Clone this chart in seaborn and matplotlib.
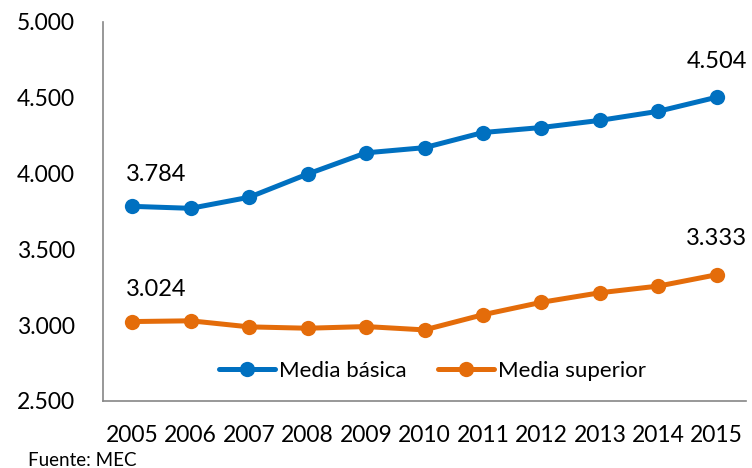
import matplotlib
matplotlib.use("Agg")
import matplotlib.pyplot as plt
from matplotlib.lines import Line2D
import seaborn as sns
import pandas as pd

years = [2005, 2006, 2007, 2008, 2009, 2010, 2011, 2012, 2013, 2014, 2015]
media_basica = [3784, 3771, 3844, 3997, 4137, 4171, 4271, 4304, 4351, 4411, 4504]
media_superior = [3024, 3029, 2989, 2980, 2991, 2969, 3069, 3151, 3214, 3258, 3333]
series_names = ["Media básica", "Media superior"]
colors = ["#0070C0", "#E46C0A"]
y_ticks = [2500, 3000, 3500, 4000, 4500, 5000]
source_text = "Fuente: MEC"

df = pd.DataFrame({
    "Año": years * 2,
    "Valor": media_basica + media_superior,
    "Serie": [series_names[0]] * len(years) + [series_names[1]] * len(years),
})

sns.set_style("white")
plt.rcParams["font.family"] = ["Lato", "DejaVu Sans"]
plt.rcParams["text.color"] = "black"
plt.rcParams["xtick.color"] = "black"
plt.rcParams["ytick.color"] = "black"

def fmt(v):
    return f"{v:,.0f}".replace(",", ".")

fig = plt.figure(figsize=(7.52, 4.68), dpi=100)
ax = fig.add_axes([103 / 752, (468 - 401) / 468, (746 - 103) / 752, (401 - 22) / 468])

sns.lineplot(data=df, x="Año", y="Valor", hue="Serie", palette=colors,
             marker="o", markersize=11, markeredgewidth=0, linewidth=3.6,
             ax=ax, legend=False)

ax.set_xlim(2004.5, 2015.5)
ax.set_ylim(2500, 5000)
ax.set_xticks(years)
ax.set_xticklabels([str(y) for y in years], fontsize=16.5)
ax.set_yticks(y_ticks)
ax.set_yticklabels([fmt(v) for v in y_ticks], fontsize=16.5)
ax.tick_params(axis="x", length=0, pad=17, colors="black")
ax.tick_params(axis="y", length=0, pad=20, colors="black")
ax.set_xlabel("")
ax.set_ylabel("")
for s in ["top", "right"]:
    ax.spines[s].set_visible(False)
for s in ["left", "bottom"]:
    ax.spines[s].set_color("#868686")
    ax.spines[s].set_linewidth(1.2)

for vals in [media_basica, media_superior]:
    ax.annotate(fmt(vals[0]), (years[0], vals[0]), xytext=(17, 23),
                textcoords="offset points", ha="center", va="center", fontsize=17,
                color="black")
    ax.annotate(fmt(vals[-1]), (years[-1], vals[-1]), xytext=(0, 26),
                textcoords="offset points", ha="center", va="center", fontsize=17,
                color="black")

handles = [Line2D([0], [0], color=c, lw=3.6, marker="o", markersize=11,
                  markeredgewidth=0) for c in colors]
leg = ax.legend(handles, series_names, loc="center", bbox_to_anchor=(0.513, 0.08),
                ncol=2, frameon=False, fontsize=16, handlelength=2.5,
                handletextpad=0.2, columnspacing=1.4)
for t in leg.get_texts():
    t.set_color("black")

fig.text(28 / 752, 1 - 461 / 468, source_text, fontsize=13.5, ha="left", va="center",
         color="black")

fig.savefig("out.png", dpi=100)
